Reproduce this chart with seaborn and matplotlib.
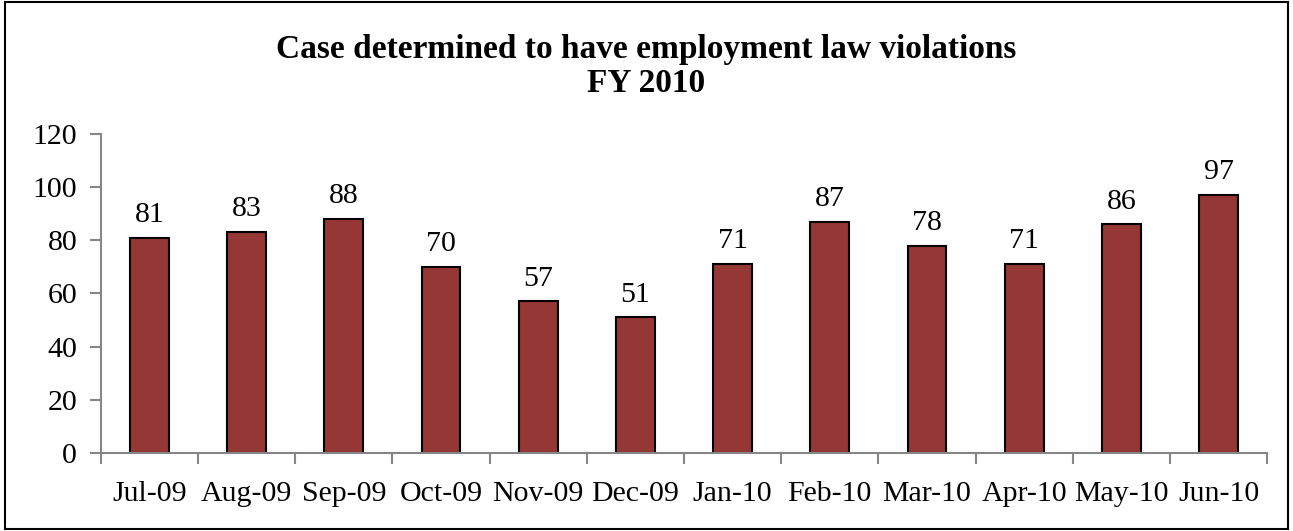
import pandas as pd
import seaborn as sns
import matplotlib.pyplot as plt
from matplotlib.patches import Rectangle

months = ['Jul-09', 'Aug-09', 'Sep-09', 'Oct-09', 'Nov-09', 'Dec-09',
          'Jan-10', 'Feb-10', 'Mar-10', 'Apr-10', 'May-10', 'Jun-10']
cases = [81, 83, 88, 70, 57, 51, 71, 87, 78, 71, 86, 97]
y_ticks = [0, 20, 40, 60, 80, 100, 120]

df = pd.DataFrame({'month': months, 'cases': cases})

sns.set_style('white')
plt.rcParams['font.family'] = ['Liberation Serif', 'DejaVu Serif']
plt.rcParams['text.color'] = 'black'
plt.rcParams['xtick.labelcolor'] = 'black'
plt.rcParams['ytick.labelcolor'] = 'black'

fig = plt.figure(figsize=(12.93, 5.31), dpi=100)
ax = fig.add_axes([0.078, 0.147, 0.902, 0.601])

sns.barplot(data=df, x='month', y='cases', color='#953735', saturation=1,
            edgecolor='black', linewidth=1.5, width=0.4, ax=ax)
ax.bar_label(ax.containers[0], padding=7, fontsize=21.5, color='black')

ax.set_ylim(0, 120)
ax.set_yticks(y_ticks)
ax.set_xlim(-0.5, len(months) - 0.5)
ax.set_xlabel('')
ax.set_ylabel('')

for side in ['top', 'right']:
    ax.spines[side].set_visible(False)
for side in ['left', 'bottom']:
    ax.spines[side].set_color('#868686')
    ax.spines[side].set_linewidth(1.5)

ax.tick_params(axis='y', which='major', direction='out', length=8, width=1.5,
               color='#868686', labelsize=21.5, pad=9, left=True)
ax.tick_params(axis='x', which='major', length=0, labelsize=21.5, pad=20)
ax.set_xticks([i - 0.5 for i in range(len(months) + 1)], minor=True)
ax.tick_params(axis='x', which='minor', direction='out', length=8, width=1.5,
               color='#868686', bottom=True)

fig.text(0.5, 0.875, 'Case determined to have employment law violations\nFY 2010',
         ha='center', va='center', fontsize=24, fontweight='bold', linespacing=1.15)

fig.patches.append(Rectangle((0.004, 0.004), 0.992, 0.992, transform=fig.transFigure,
                             fill=False, edgecolor='black', linewidth=1.5))

plt.savefig('out.png', dpi=100)
